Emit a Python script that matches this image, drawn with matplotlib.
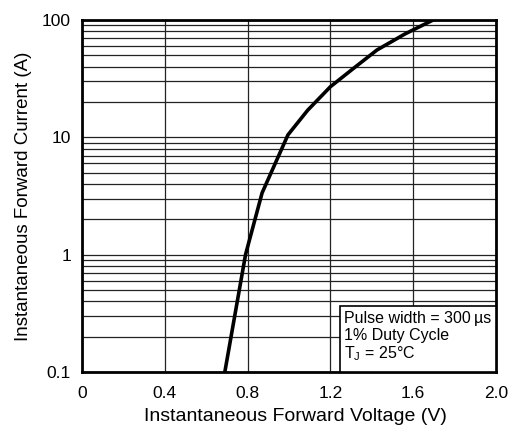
import matplotlib.pyplot as plt
from matplotlib.patches import Rectangle

plt.rcParams['font.family'] = ['Liberation Sans', 'DejaVu Sans']

voltage = [0.69, 0.79, 0.87, 0.995, 1.09, 1.20, 1.31, 1.425, 1.56, 1.696]
current = [0.1, 1.0, 3.36, 10.5, 17.0, 27.0, 38.5, 55.5, 76.0, 100]

xticks = [0, 0.4, 0.8, 1.2, 1.6, 2.0]
xticklabels = ['0', '0.4', '0.8', '1.2', '1.6', '2.0']
yticks = [0.1, 1, 10, 100]
yticklabels = ['0.1', '1', '10', '100']

fig = plt.figure(figsize=(5.1, 4.3), dpi=100)
ax = fig.add_axes([82/510, 58/430, 414/510, 352/430])

ax.set_yscale('log')
ax.set_xlim(0, 2.0)
ax.set_ylim(0.1, 100)

ax.set_xticks(xticks)
ax.set_xticklabels(xticklabels)
ax.set_yticks(yticks)
ax.set_yticklabels(yticklabels)
ax.tick_params(axis='both', which='both', length=0, labelsize=12.5)
ax.tick_params(axis='x', pad=10)
ax.tick_params(axis='y', pad=8)
ax.minorticks_on()
ax.tick_params(axis='y', which='minor', labelleft=False)
ax.xaxis.set_minor_locator(plt.NullLocator())

ax.grid(True, which='major', color='#222222', linewidth=0.9)
ax.grid(True, which='minor', axis='y', color='#222222', linewidth=0.9)

ax.plot(voltage, current, color='black', linewidth=2.6, zorder=5)

for s in ax.spines.values():
    s.set_linewidth(2)

# annotation box
ax.add_patch(Rectangle((0.623, 0), 0.377, 0.1875, transform=ax.transAxes,
                       facecolor='white', edgecolor='black', linewidth=1.2, zorder=6))
ax.text(0.632, 0.172, 'Pulse width = 300\u2009\u00b5s\n1% Duty Cycle\nT$_\\mathregular{J}$ = 25\u00b0C',
        transform=ax.transAxes, fontsize=11.5, va='top', ha='left', linespacing=1.1, zorder=7)

ax.set_xlabel('Instantaneous Forward Voltage (V)', fontsize=14, labelpad=5)
ax.xaxis.label.set_x(0.515)
ax.set_ylabel('Instantaneous Forward Current (A)', fontsize=13.5, labelpad=7)

plt.savefig('out.png', dpi=100)
